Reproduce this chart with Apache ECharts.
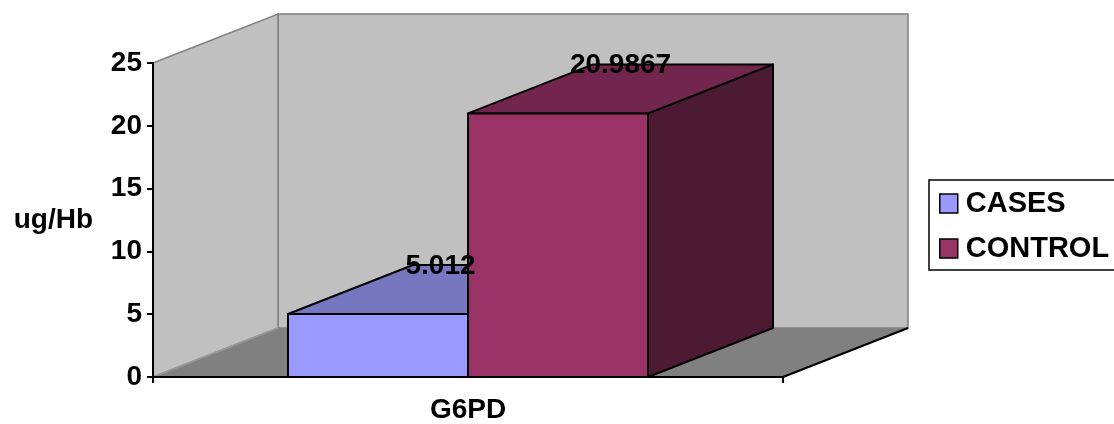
<!DOCTYPE html>
<html>
<head>
<meta charset="utf-8">
<title>G6PD</title>
<script src="https://cdn.jsdelivr.net/npm/echarts@6/dist/echarts.min.js"></script>
<style>
  html, body { margin: 0; padding: 0; background: #ffffff; }
  #chart { width: 1114px; height: 424px; }
</style>
</head>
<body>
<div id="chart"></div>
<script>
// ---- data ----
const categories = ['G6PD'];
const seriesNames = ['CASES', 'CONTROL'];
const casesValues = [5.012];
const controlValues = [20.9867];
const yAxisName = 'ug/Hb';
const yMin = 0;
const yMax = 25;
const yStep = 5;

// ---- look ----
const FONT = '"Liberation Sans", Arial, Helvetica, sans-serif';
const DEPTH = [125, -49];          // oblique offset of the back plane, px
const GAP = 1.5;                   // gap between category groups, in bar widths
const FACES = [
  { front: '#9999FF', top: '#7777C0', side: '#4C4C80' },
  { front: '#993366', top: '#73264D', side: '#4D1A33' }
];

function wallsRenderer(params, api) {
  const cs = params.coordSys;
  const dx = DEPTH[0], dy = DEPTH[1];
  const L = cs.x, R = cs.x + cs.width, T = cs.y, B = cs.y + cs.height;
  const wallEdge = { stroke: '#808080', lineWidth: 1.5 };
  return {
    type: 'group',
    children: [
      { type: 'polygon', shape: { points: [[L + dx, T + dy], [R + dx, T + dy], [R + dx, B + dy], [L + dx, B + dy]] },
        style: Object.assign({ fill: '#C0C0C0' }, wallEdge) },
      { type: 'polygon', shape: { points: [[L, T], [L + dx, T + dy], [L + dx, B + dy], [L, B]] },
        style: Object.assign({ fill: '#C0C0C0' }, wallEdge) },
      { type: 'polygon', shape: { points: [[L, B], [L + dx, B + dy], [R + dx, B + dy], [R, B]] },
        style: { fill: '#808080', stroke: null } },
      { type: 'line', shape: { x1: L, y1: B, x2: L + dx, y2: B + dy },
        style: { stroke: '#999999', lineWidth: 1.5 } },
      { type: 'line', shape: { x1: R, y1: B, x2: R + dx, y2: B + dy },
        style: { stroke: '#000000', lineWidth: 2 } }
    ]
  };
}

function barRenderer(seriesIdx) {
  const faces = FACES[seriesIdx];
  return function (params, api) {
    const cat = api.value(0);
    const v = api.value(1);
    const band = api.size([1, 0])[0];
    const base = api.coord([cat, 0]);
    const top = api.coord([cat, v]);
    const w = band / (seriesNames.length + GAP);
    const x0 = base[0] - band / 2 + w * GAP / 2 + seriesIdx * w;
    const x1 = x0 + w;
    const yb = base[1], yt = top[1];
    const dx = DEPTH[0], dy = DEPTH[1];
    const edge = { stroke: '#000000', lineWidth: 2, lineJoin: 'round' };
    return {
      type: 'group',
      children: [
        { type: 'polygon', shape: { points: [[x1, yt], [x1 + dx, yt + dy], [x1 + dx, yb + dy], [x1, yb]] },
          style: Object.assign({ fill: faces.side }, edge) },
        { type: 'polygon', shape: { points: [[x0, yt], [x1, yt], [x1 + dx, yt + dy], [x0 + dx, yt + dy]] },
          style: Object.assign({ fill: faces.top }, edge) },
        { type: 'rect', shape: { x: x0, y: yt, width: w, height: yb - yt },
          style: Object.assign({ fill: faces.front }, edge) },
        // value label sits over the back edge of the top face
        { type: 'text', x: x0 + w / 2 + dx / 2, y: yt + dy + 1, z2: 100,
          style: { text: String(v), fill: '#000000', font: 'bold 28px ' + FONT,
                   align: 'center', verticalAlign: 'middle' } }
      ]
    };
  };
}

const toPairs = arr => arr.map((v, i) => [i, v]);

const option = {
  animation: false,
  backgroundColor: '#ffffff',
  textStyle: { fontFamily: FONT },
  grid: { left: 153, top: 63, width: 630, height: 317 },
  legend: {
    data: seriesNames,
    orient: 'vertical',
    left: 929,
    top: 180,
    padding: [9, 14, 7, 10],
    itemGap: 16,
    itemWidth: 18,
    itemHeight: 19,
    icon: 'rect',
    borderColor: '#000000',
    borderWidth: 1.5,
    itemStyle: { borderColor: '#000000', borderWidth: 1.5 },
    textStyle: { fontSize: 29, fontWeight: 'bold', color: '#000000', fontFamily: FONT,
                 lineHeight: 27, padding: [0, 0, 0, 3] }
  },
  xAxis: {
    type: 'category',
    data: categories,
    z: 1,
    boundaryGap: true,
    axisLine: { lineStyle: { color: '#000000', width: 2 } },
    axisTick: { show: true, length: 6, lineStyle: { color: '#000000', width: 2 } },
    axisLabel: { fontSize: 28, fontWeight: 'bold', color: '#000000', fontFamily: FONT, margin: 19 }
  },
  yAxis: {
    type: 'value',
    min: yMin,
    max: yMax,
    interval: yStep,
    z: 1,
    name: yAxisName,
    nameLocation: 'middle',
    nameRotate: 0,
    nameGap: 60,
    nameTextStyle: { fontSize: 28, fontWeight: 'bold', color: '#000000', fontFamily: FONT },
    axisLine: { show: true, lineStyle: { color: '#000000', width: 2 } },
    axisTick: { show: true, length: 6, lineStyle: { color: '#000000', width: 2 } },
    splitLine: { show: false },
    axisLabel: { fontSize: 28, fontWeight: 'bold', color: '#000000', fontFamily: FONT, margin: 11 }
  },
  series: [
    {
      type: 'custom',
      silent: true,
      z: 0,
      renderItem: wallsRenderer,
      data: [[0, 0]]
    },
    {
      name: seriesNames[0],
      type: 'custom',
      z: 2,
      itemStyle: { color: FACES[0].front },
      renderItem: barRenderer(0),
      data: toPairs(casesValues)
    },
    {
      name: seriesNames[1],
      type: 'custom',
      z: 2,
      itemStyle: { color: FACES[1].front },
      renderItem: barRenderer(1),
      data: toPairs(controlValues)
    }
  ]
};

const chart = echarts.init(document.getElementById('chart'), null, { renderer: 'canvas' });
chart.setOption(option);
</script>
</body>
</html>
